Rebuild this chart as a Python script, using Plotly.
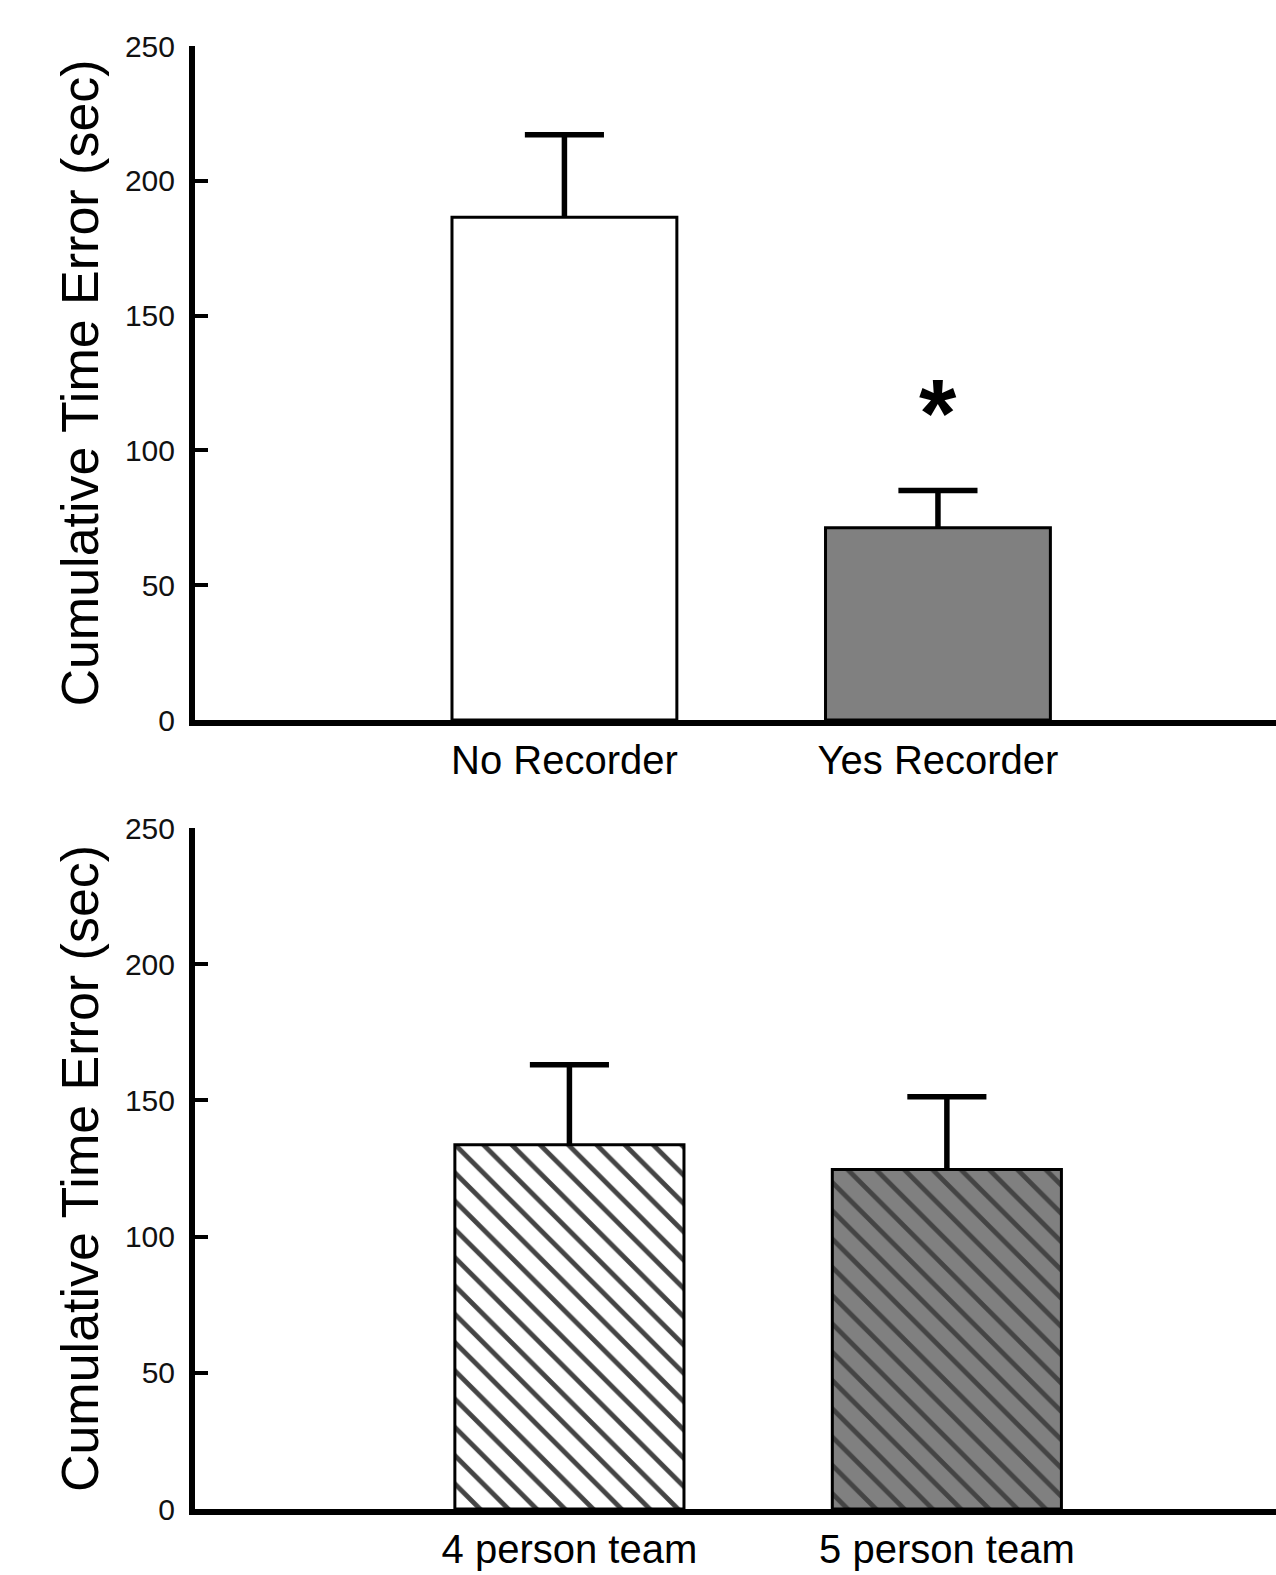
import plotly.graph_objects as go

# ---- data ----
top_categories = ["No Recorder", "Yes Recorder"]
top_values = [186.5, 71.3]
top_errors = [30.6, 13.8]

bottom_categories = ["4 person team", "5 person team"]
bottom_values = [133.7, 124.6]
bottom_errors = [29.4, 26.7]

y_tick_values = [0, 50, 100, 150, 200, 250]
y_tick_labels = ["0", "50", "100", "150", "200", "250"]
y_title = "Cumulative Time Error (sec)"
significance_mark = "*"
significance_y = 114

# ---- styling ----
FONT = "Liberation Sans, Arial, Helvetica, sans-serif"
GREY = "#808080"
W, H = 1276, 1575
M_T, M_B, M_L, M_R = 46, 66, 195, 0
plot_h = H - M_T - M_B
top_dom = [(1509 - 720) / plot_h, 1.0]
bot_dom = [0.0, (1509 - 828) / plot_h]

fig = go.Figure()


def add_panel(cats, vals, errs, xa, ya, width, pattern=None):
    marker = dict(color=["white", GREY], line=dict(color="black", width=3))
    if pattern is not None:
        marker["pattern"] = pattern
    # bars with upward-only error stems (no caps)
    fig.add_trace(go.Bar(
        x=cats, y=vals, xaxis=xa, yaxis=ya, width=width,
        marker=marker,
        error_y=dict(type="data", array=errs, arrayminus=[0] * len(errs),
                     symmetric=False, color="black", thickness=5.5, width=0),
        hoverinfo="x+y",
    ))
    # caps at the top of each error bar
    fig.add_trace(go.Scatter(
        x=cats, y=[v + e for v, e in zip(vals, errs)], xaxis=xa, yaxis=ya,
        mode="markers",
        marker=dict(symbol="line-ew", size=56.5, color="black",
                    line=dict(color="black", width=5.5)),
        hoverinfo="skip",
    ))


add_panel(top_categories, top_values, top_errors, "x", "y", 0.602)
add_panel(bottom_categories, bottom_values, bottom_errors, "x2", "y2", 0.607,
          pattern=dict(shape="\\", size=20, solidity=0.24,
                       fgcolor="black", fgopacity=1,
                       bgcolor=["white", GREY]))


def xaxis_style(rng, anchor):
    return dict(
        domain=[0, 1], anchor=anchor, range=rng, automargin=False,
        showline=True, linewidth=6, linecolor="black",
        ticks="", showgrid=False, zeroline=False,
        tickfont=dict(family=FONT, size=40, color="black"),
        ticklabelstandoff=0,
    )


def yaxis_style(dom, anchor):
    return dict(
        domain=dom, anchor=anchor, range=[0, 250], automargin=False,
        tickvals=y_tick_values, ticktext=y_tick_labels,
        ticks="inside", ticklen=13, tickwidth=4, tickcolor="black",
        showline=True, linewidth=6, linecolor="black",
        showgrid=False, zeroline=False,
        tickfont=dict(family=FONT, size=30, color="#111111"),
        ticklabelstandoff=8,
        title=dict(text=y_title, font=dict(family=FONT, size=52, color="black"), standoff=12),
    )


fig.update_layout(
    width=W, height=H,
    margin=dict(l=M_L, r=M_R, t=M_T, b=M_B, autoexpand=False),
    paper_bgcolor="white", plot_bgcolor="white",
    showlegend=False,
    xaxis=xaxis_style([-0.989, 1.905], "y"),
    yaxis=yaxis_style(top_dom, "x"),
    xaxis2=xaxis_style([-0.992, 1.872], "y2"),
    yaxis2=yaxis_style(bot_dom, "x2"),
    annotations=[dict(
        x=top_categories[1], y=significance_y, xref="x", yref="y",
        text="<b>" + significance_mark + "</b>", showarrow=False,
        font=dict(family=FONT, size=96, color="black"),
        xanchor="center", yanchor="middle",
    )],
)

# remove the browser's default 8px page margin so the figure sits at the window's corner
fig.write_html("out.html", config={"displayModeBar": False},
               post_script="document.body.style.margin='0';")
